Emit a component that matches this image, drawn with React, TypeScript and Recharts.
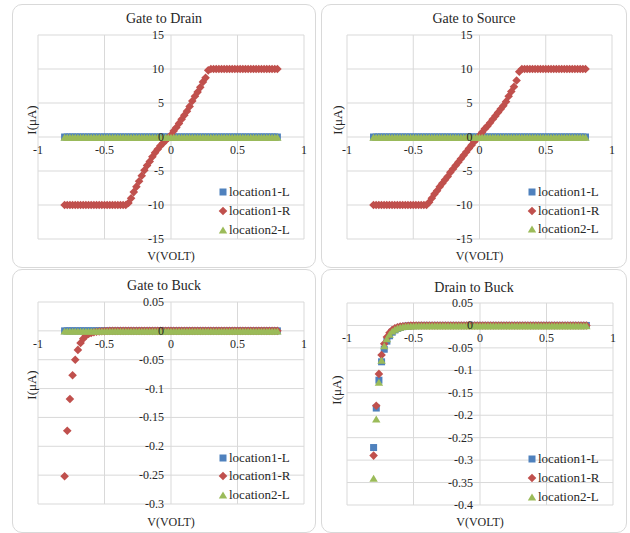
import React from "react";
import { ScatterChart, Scatter, XAxis, YAxis, CartesianGrid } from "recharts";

// sweep voltage (V), shared by every measurement
const voltage = [
  -0.8, -0.78, -0.76, -0.74, -0.72, -0.7, -0.68, -0.66, -0.64, -0.62,
  -0.6, -0.58, -0.56, -0.54, -0.52, -0.5, -0.48, -0.46, -0.44, -0.42,
  -0.4, -0.38, -0.36, -0.34, -0.32, -0.3, -0.28, -0.26, -0.24, -0.22,
  -0.2, -0.18, -0.16, -0.14, -0.12, -0.1, -0.08, -0.06, -0.04, -0.02,
  0, 0.02, 0.04, 0.06, 0.08, 0.1, 0.12, 0.14, 0.16, 0.18,
  0.2, 0.22, 0.24, 0.26, 0.28, 0.3, 0.32, 0.34, 0.36, 0.38,
  0.4, 0.42, 0.44, 0.46, 0.48, 0.5, 0.52, 0.54, 0.56, 0.58,
  0.6, 0.62, 0.64, 0.66, 0.68, 0.7, 0.72, 0.74, 0.76, 0.78,
  0.8,
];

// flat (no leakage) readings
const zeroCurrent = [
  0, 0, 0, 0, 0, 0, 0, 0, 0, 0,
  0, 0, 0, 0, 0, 0, 0, 0, 0, 0,
  0, 0, 0, 0, 0, 0, 0, 0, 0, 0,
  0, 0, 0, 0, 0, 0, 0, 0, 0, 0,
  0, 0, 0, 0, 0, 0, 0, 0, 0, 0,
  0, 0, 0, 0, 0, 0, 0, 0, 0, 0,
  0, 0, 0, 0, 0, 0, 0, 0, 0, 0,
  0, 0, 0, 0, 0, 0, 0, 0, 0, 0,
  0,
];

// Gate to Drain, location1-R (uA)
const gdLoc1R = [
  -10, -10, -10, -10, -10, -10, -10, -10, -10, -10,
  -10, -10, -10, -10, -10, -10, -10, -10, -10, -10,
  -10, -10, -10, -10, -9.7, -9.0, -8.1, -7.3, -6.5, -5.7,
  -4.9, -4.2, -3.6, -2.9, -2.3, -1.8, -1.3, -0.9, -0.5, -0.1,
  0.3, 0.9, 1.4, 2.0, 2.6, 3.2, 3.8, 4.5, 5.3, 6.0,
  6.6, 7.3, 8.1, 8.7, 9.8, 10, 10, 10, 10, 10,
  10, 10, 10, 10, 10, 10, 10, 10, 10, 10,
  10, 10, 10, 10, 10, 10, 10, 10, 10, 10,
  10,
];

// Gate to Source, location1-R (uA)
const gsLoc1R = [
  -10, -10, -10, -10, -10, -10, -10, -10, -10, -10,
  -10, -10, -10, -10, -10, -10, -10, -10, -10, -10,
  -10, -9.6, -9.0, -8.4, -7.9, -7.3, -6.8, -6.3, -5.8, -5.2,
  -4.7, -4.2, -3.7, -3.2, -2.7, -2.2, -1.7, -1.2, -0.7, -0.25,
  0.2, 0.7, 1.2, 1.6, 2.1, 2.6, 3.1, 3.6, 4.1, 4.6,
  5.2, 6.0, 6.7, 7.4, 8.3, 9.6, 10, 10, 10, 10,
  10, 10, 10, 10, 10, 10, 10, 10, 10, 10,
  10, 10, 10, 10, 10, 10, 10, 10, 10, 10,
  10,
];

// Gate to Buck, location1-R (uA)
const gbLoc1R = [
  -0.252, -0.173, -0.118, -0.077, -0.05, -0.033, -0.021, -0.0135, -0.0083, -0.0055,
  -0.0037, -0.0025, -0.0015, -0.001, -0.0006, -0.0004, -0.0002, 0, 0, 0,
  0, 0, 0, 0, 0, 0, 0, 0, 0, 0,
  0, 0, 0, 0, 0, 0, 0, 0, 0, 0,
  0, 0, 0, 0, 0, 0, 0, 0, 0, 0,
  0, 0, 0, 0, 0, 0, 0, 0, 0, 0,
  0, 0, 0, 0, 0, 0, 0, 0, 0, 0,
  0, 0, 0, 0, 0, 0, 0, 0, 0, 0,
  0,
];

// Drain to Buck (uA)
const dbLoc1L = [
  -0.272, -0.184, -0.122, -0.081, -0.053, -0.035, -0.023, -0.015, -0.01, -0.0065,
  -0.0042, -0.0027, -0.0017, -0.0011, -0.0007, -0.0004, -0.0002, 0, 0, 0,
  0, 0, 0, 0, 0, 0, 0, 0, 0, 0,
  0, 0, 0, 0, 0, 0, 0, 0, 0, 0,
  0, 0, 0, 0, 0, 0, 0, 0, 0, 0,
  0, 0, 0, 0, 0, 0, 0, 0, 0, 0,
  0, 0, 0, 0, 0, 0, 0, 0, 0, 0,
  0, 0, 0, 0, 0, 0, 0, 0, 0, 0,
  0,
];
const dbLoc1R = [
  -0.29, -0.179, -0.108, -0.066, -0.041, -0.026, -0.016, -0.01, -0.0065, -0.004,
  -0.0026, -0.0017, -0.0011, -0.0007, -0.0004, -0.0002, -0.0001, 0, 0, 0,
  0, 0, 0, 0, 0, 0, 0, 0, 0, 0,
  0, 0, 0, 0, 0, 0, 0, 0, 0, 0,
  0, 0, 0, 0, 0, 0, 0, 0, 0, 0,
  0, 0, 0, 0, 0, 0, 0, 0, 0, 0,
  0, 0, 0, 0, 0, 0, 0, 0, 0, 0,
  0, 0, 0, 0, 0, 0, 0, 0, 0, 0,
  0,
];
const dbLoc2L = [
  -0.34, -0.208, -0.126, -0.077, -0.045, -0.029, -0.019, -0.012, -0.008, -0.005,
  -0.0033, -0.0021, -0.0013, -0.0009, -0.0006, -0.0004, -0.0002, 0, 0, 0,
  0, 0, 0, 0, 0, 0, 0, 0, 0, 0,
  0, 0, 0, 0, 0, 0, 0, 0, 0, 0,
  0, 0, 0, 0, 0, 0, 0, 0, 0, 0,
  0, 0, 0, 0, 0, 0, 0, 0, 0, 0,
  0, 0, 0, 0, 0, 0, 0, 0, 0, 0,
  0, 0, 0, 0, 0, 0, 0, 0, 0, 0,
  0,
];

const xTicks = [-1, -0.5, 0, 0.5, 1];
const yTicksGate = [-15, -10, -5, 0, 5, 10, 15];
const yTicksGateBuck = [-0.3, -0.25, -0.2, -0.15, -0.1, -0.05, 0, 0.05];
const yTicksDrainBuck = [-0.4, -0.35, -0.3, -0.25, -0.2, -0.15, -0.1, -0.05, 0, 0.05];
const seriesNames = ["location1-L", "location1-R", "location2-L"];

const BLUE = "#4F81BD";
const RED = "#C0504D";
const GREEN = "#9BBB59";
const TEXT = "#262626";
const FONT = "'Liberation Serif', 'Times New Roman', serif";

const Square = (props: any) => {
  const { cx, cy } = props;
  return <rect x={cx - 3.5} y={cy - 3.5} width={7} height={7} fill={BLUE} />;
};
const Diamond = (props: any) => {
  const { cx, cy } = props;
  const r = 4.3;
  return <polygon points={`${cx},${cy - r} ${cx + r},${cy} ${cx},${cy + r} ${cx - r},${cy}`} fill={RED} />;
};
const Triangle = (props: any) => {
  const { cx, cy } = props;
  return <polygon points={`${cx},${cy - 3.2} ${cx + 4.2},${cy + 3.7} ${cx - 4.2},${cy + 3.7}`} fill={GREEN} />;
};

const toPoints = (vals: number[]) => voltage.map((v, k) => ({ v, i: vals[k] }));

type Margin = { top: number; right: number; bottom: number; left: number };

interface PanelProps {
  left: number;
  top: number;
  width: number;
  height: number;
  margin: Margin;
  title: string;
  titleY: number;
  yDomain: [number, number];
  yTicks: number[];
  loc1L: number[];
  loc1R: number[];
  loc2L: number[];
  yLabelX: number;
  yLabelY: number;
  xLabelY: number;
  legendX: number;
  legendY: number;
  legendGap: number;
}

const AXIS_SIZE = 10;

const Panel = (p: PanelProps) => {
  const plotW = p.width - p.margin.left - p.margin.right;
  const plotH = p.height - p.margin.top - p.margin.bottom;
  // axes cross at the origin, like the Excel original
  const zeroX = p.margin.left + plotW / 2;
  const zeroY = p.margin.top + (plotH * p.yDomain[1]) / (p.yDomain[1] - p.yDomain[0]);
  // leave room for the (invisible) axis boxes
  const chartMargin = {
    top: p.margin.top,
    right: p.margin.right,
    bottom: p.margin.bottom - AXIS_SIZE,
    left: p.margin.left - AXIS_SIZE,
  };

  const yTick = (props: any) => (
    <text x={zeroX - 7} y={props.y} dy={4} textAnchor="end" fontSize={12} fontFamily={FONT} fill={TEXT}>
      {String(props.payload.value)}
    </text>
  );
  const xTick = (props: any) => (
    <text x={props.x} y={zeroY + 17} textAnchor="middle" fontSize={12} fontFamily={FONT} fill={TEXT}>
      {String(props.payload.value)}
    </text>
  );

  const markers = [
    <svg width={10} height={10}><rect x={1.5} y={1.5} width={7} height={7} fill={BLUE} /></svg>,
    <svg width={10} height={10}><polygon points="5,0.7 9.3,5 5,9.3 0.7,5" fill={RED} /></svg>,
    <svg width={10} height={10}><polygon points="5,1.5 9.2,8.4 0.8,8.4" fill={GREEN} /></svg>,
  ];

  return (
    <div style={{ position: "absolute", left: p.left, top: p.top, width: p.width, height: p.height }}>
      <ScatterChart width={p.width} height={p.height} margin={chartMargin}>
        <CartesianGrid stroke="#d9d9d9" />
        <XAxis
          type="number"
          dataKey="v"
          domain={[-1, 1]}
          ticks={xTicks}
          interval={0}
          axisLine={false}
          tickLine={false}
          height={AXIS_SIZE}
          tick={xTick}
        />
        <YAxis
          type="number"
          dataKey="i"
          domain={p.yDomain}
          ticks={p.yTicks}
          interval={0}
          axisLine={false}
          tickLine={false}
          width={AXIS_SIZE}
          tick={yTick}
        />
        <Scatter name={seriesNames[0]} data={toPoints(p.loc1L)} shape={Square} isAnimationActive={false} />
        <Scatter name={seriesNames[1]} data={toPoints(p.loc1R)} shape={Diamond} isAnimationActive={false} />
        <Scatter name={seriesNames[2]} data={toPoints(p.loc2L)} shape={Triangle} isAnimationActive={false} />
      </ScatterChart>
      <div
        style={{
          position: "absolute",
          inset: 0,
          border: "1px solid #d9d9d9",
          borderRadius: 10,
          boxSizing: "border-box",
          pointerEvents: "none",
        }}
      />
      <div
        style={{
          position: "absolute",
          left: 0,
          width: p.width,
          top: p.titleY - 9,
          lineHeight: "18px",
          textAlign: "center",
          fontFamily: FONT,
          fontSize: 14,
          color: TEXT,
        }}
      >
        {p.title}
      </div>
      <div
        style={{
          position: "absolute",
          left: p.yLabelX,
          top: p.yLabelY,
          transform: "translate(-50%, -50%) rotate(-90deg)",
          fontFamily: FONT,
          fontSize: 13,
          color: TEXT,
          whiteSpace: "nowrap",
        }}
      >
        I(μA)
      </div>
      <div
        style={{
          position: "absolute",
          left: zeroX - 60,
          width: 120,
          top: p.xLabelY - 8,
          lineHeight: "16px",
          textAlign: "center",
          fontFamily: FONT,
          fontSize: 12,
          color: TEXT,
        }}
      >
        V(VOLT)
      </div>
      {seriesNames.map((name, k) => (
        <div
          key={name}
          style={{
            position: "absolute",
            left: p.legendX - 5,
            top: p.legendY + k * p.legendGap - 8,
            height: 16,
            display: "flex",
            alignItems: "center",
            fontFamily: FONT,
            fontSize: 13,
            color: TEXT,
            whiteSpace: "nowrap",
          }}
        >
          {markers[k]}
          <span style={{ marginLeft: 1 }}>{name}</span>
        </div>
      ))}
    </div>
  );
};

export default function App() {
  return (
    <div style={{ position: "absolute", left: 0, top: 0, width: 630, height: 533, background: "#fff", overflow: "hidden" }}>
      <Panel
        left={12}
        top={4}
        width={304}
        height={264}
        margin={{ top: 31, right: 12, bottom: 29, left: 26 }}
        title="Gate to Drain"
        titleY={15}
        yDomain={[-15, 15]}
        yTicks={yTicksGate}
        loc1L={zeroCurrent}
        loc1R={gdLoc1R}
        loc2L={zeroCurrent}
        yLabelX={20}
        yLabelY={116}
        xLabelY={252}
        legendX={211}
        legendY={188}
        legendGap={18.8}
      />
      <Panel
        left={321}
        top={4}
        width={306}
        height={264}
        margin={{ top: 31, right: 15, bottom: 29, left: 26 }}
        title="Gate to Source"
        titleY={15}
        yDomain={[-15, 15]}
        yTicks={yTicksGate}
        loc1L={zeroCurrent}
        loc1R={gsLoc1R}
        loc2L={zeroCurrent}
        yLabelX={17}
        yLabelY={116}
        xLabelY={252}
        legendX={211}
        legendY={188}
        legendGap={18.7}
      />
      <Panel
        left={12}
        top={269}
        width={304}
        height={264}
        margin={{ top: 33, right: 12, bottom: 29, left: 26 }}
        title="Gate to Buck"
        titleY={17}
        yDomain={[-0.3, 0.05]}
        yTicks={yTicksGateBuck}
        loc1L={zeroCurrent}
        loc1R={gbLoc1R}
        loc2L={zeroCurrent}
        yLabelX={20}
        yLabelY={116}
        xLabelY={253}
        legendX={211}
        legendY={188.5}
        legendGap={18.5}
      />
      <Panel
        left={321}
        top={269}
        width={306}
        height={264}
        margin={{ top: 34, right: 14, bottom: 28, left: 26 }}
        title="Drain to Buck"
        titleY={19}
        yDomain={[-0.4, 0.05]}
        yTicks={yTicksDrainBuck}
        loc1L={dbLoc1L}
        loc1R={dbLoc1R}
        loc2L={dbLoc2L}
        yLabelX={16}
        yLabelY={121}
        xLabelY={253}
        legendX={211}
        legendY={189.5}
        legendGap={19.2}
      />
    </div>
  );
}
